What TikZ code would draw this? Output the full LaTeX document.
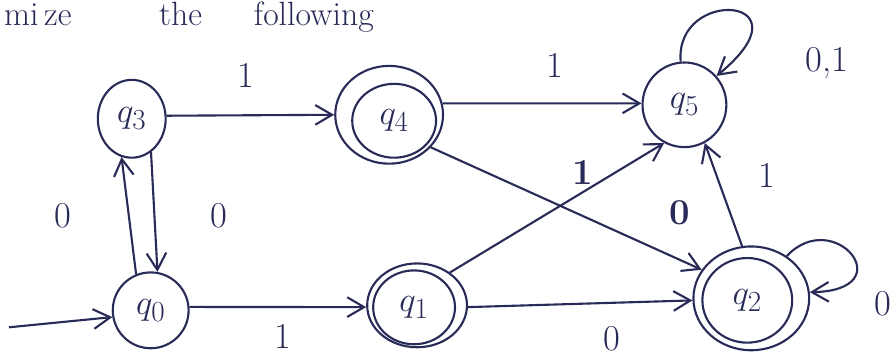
\documentclass[tikz,border=0pt]{standalone}
\usetikzlibrary{arrows.meta,shapes.geometric}
\definecolor{ink}{RGB}{40,42,88}
\begin{document}
\begin{tikzpicture}[x=0.025cm,y=-0.025cm,
  every path/.style={line width=1.5pt,draw=ink},
  st/.style={ellipse,draw=ink,line width=1.5pt,inner sep=0pt,text=ink,font=\fontsize{28}{32}\selectfont},
  ring/.style={ellipse,draw=ink,line width=1.5pt,inner sep=0pt,text=ink,font=\fontsize{28}{32}\selectfont},
  lab/.style={text=ink,inner sep=1pt,font=\fontsize{26}{30}\selectfont},
  arr/.style={-{Straight Barb[length=12pt,width=14pt,line width=1.5pt]}}]
\useasboundingbox (0,0) rectangle (896,358);
\fill[white] (0,0) rectangle (896,358);
% heading
\node[anchor=base west,text=ink,font=\fontsize{24}{28}\selectfont,inner sep=0pt] (head) at (2,25) {mi\,ze\hspace{2.2cm}the\hspace{1.3cm}following};
% states
\node[st,minimum width=1.7cm,minimum height=1.95cm] (q3) at (131,118) {$q_3$};
\node[st,minimum width=1.9cm,minimum height=1.9cm] (q0) at (150,310) {$q_0$};
\node[st,minimum width=2.7cm,minimum height=2.45cm] (q4) at (389,114) {};
\node[ring,minimum width=2.1cm,minimum height=1.85cm] (q4i) at (394,120) {$q_4$};
\node[st,minimum width=2.5cm,minimum height=2.1cm] (q1) at (417,305) {};
\node[ring,minimum width=2.05cm,minimum height=1.85cm] (q1i) at (414,307) {$q_1$};
\node[st,minimum width=2.1cm,minimum height=2.12cm] (q5) at (685,104) {$q_5$};
\node[st,minimum width=2.9cm,minimum height=2.6cm] (q2) at (752,298) {};
\node[ring,minimum width=2.25cm,minimum height=2.12cm] (q2i) at (748,300) {$q_2$};
% start
\coordinate (s) at (8,327);
\draw[arr] (s) -- (q0.190);
% edges
\draw[arr] (q3.-60) -- (q0.80);
\draw[arr] (q0.112) -- (q3.-105);
\draw[arr] (q3.5) -- (q4.180);
\draw[arr] (q4.12) -- (q5.178);
\draw[arr] (q4.-38) -- (q2.150);
\draw[arr] (q1.45) -- (q5.-118);
\draw[arr] (q0.5) -- (q1.182);
\draw[arr] (q1.-2) -- (q2.182);
\draw[arr] (q2.100) -- (q5.-62);
\draw[arr] (q5.95) .. controls (675,-15) and (815,-5) .. (q5.42);
\draw[arr] (q2.50) .. controls (835,205) and (905,290) .. (q2.6);
% labels
\node[lab] (l30) at (218,215) {0};
\node[lab] (l03) at (62,215) {0};
\node[lab] (l34) at (245,75) {1};
\node[lab] (l45) at (555,65) {1};
\node[lab,font=\fontsize{26}{30}\selectfont\bfseries] (l42) at (680,212) {0};
\node[lab,font=\fontsize{26}{30}\selectfont\bfseries] (l15) at (583,172) {1};
\node[lab] (l01) at (282,336) {1};
\node[lab] (l12) at (612,338) {0};
\node[lab] (l25) at (768,175) {1};
\node[lab] (l55) at (828,62) {0,1};
\node[lab] (l22) at (884,303) {0};
\end{tikzpicture}
\end{document}
